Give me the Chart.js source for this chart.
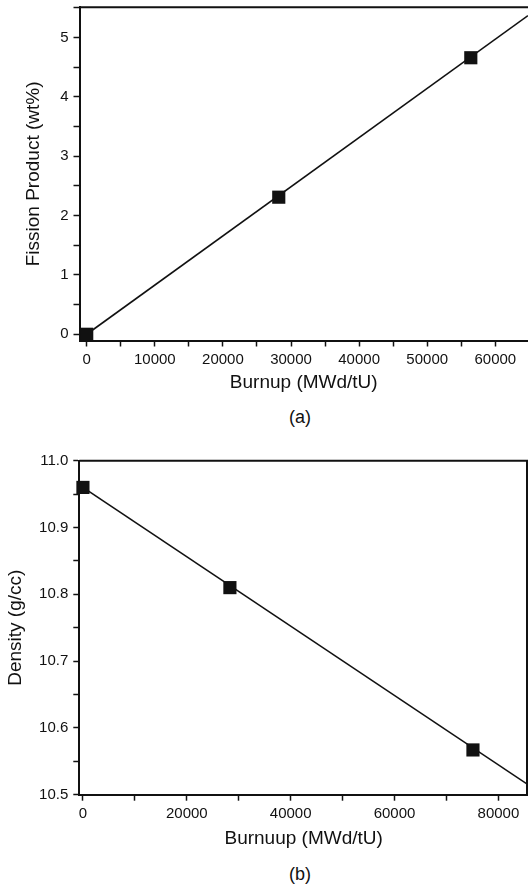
<!DOCTYPE html>
<html>
<head>
<meta charset="utf-8">
<script src="https://cdn.jsdelivr.net/npm/chart.js@4"></script>
<style>
  body { margin: 0; background: #fff; width: 528px; height: 891px; position: relative; overflow: hidden; }
  .box { position: absolute; left: 0; width: 528px; }
  .cap { position: absolute; width: 60px; text-align: center; font: 18px "Liberation Sans", Arial, sans-serif; color: #111; }
</style>
</head>
<body>
<div class="box" style="top:0;height:400px"><canvas id="chartA"></canvas></div>
<div class="cap" style="left:270px;top:407px">(a)</div>
<div class="box" style="top:440px;height:852px;height:412px"><canvas id="chartB"></canvas></div>
<div class="cap" style="left:270px;top:864px">(b)</div>
<script>
// (a) fission product vs burnup
let burnupA = [0, 28200, 56400];
let fissionA = [0, 2.31, 4.66];
// straight line through the points, ends
let fitBurnupA = [0, 64800];
let fitFissionA = [0, 5.37];

// (b) density vs burnup
let burnupB = [0, 28300, 75100];
let densityB = [10.96, 10.81, 10.567];
let fitBurnupB = [0, 85700];
let fitDensityB = [10.96, 10.515];

let fontFamily = '"Liberation Sans", Arial, sans-serif';
let ink = '#111';

function toXY(xs, ys) {
    return xs.map(function (x, i) { return { x: x, y: ys[i] }; });
}

// draws the top (and right) edge of the plot box
let frame = {
    id: 'frame',
    afterDraw: function (chart, args, opts) {
        let a = chart.chartArea;
        let ctx = chart.ctx;
        ctx.save();
        ctx.strokeStyle = ink;
        ctx.lineWidth = 2;
        ctx.beginPath();
        ctx.moveTo(a.left, a.top);
        ctx.lineTo(a.right, a.top);
        if (opts.right) {
            ctx.moveTo(a.right - 1, a.top);
            ctx.lineTo(a.right - 1, a.bottom);
        }
        ctx.stroke();
        ctx.restore();
    }
};

function makeChart(id, cfg) {
    return new Chart(document.getElementById(id), {
        type: 'scatter',
        data: {
            datasets: [{
                data: toXY(cfg.fitX, cfg.fitY),
                showLine: true,
                borderColor: ink,
                borderWidth: 1.6,
                pointRadius: 0,
                clip: false,
                order: 2
            }, {
                data: toXY(cfg.xs, cfg.ys),
                pointStyle: 'rect',
                pointRadius: 9.3,
                backgroundColor: ink,
                borderColor: ink,
                borderWidth: 0,
                clip: false,
                order: 1
            }]
        },
        options: {
            responsive: true,
            maintainAspectRatio: false,
            animation: false,
            layout: { autoPadding: false, padding: { top: cfg.padTop, left: 0, right: 0, bottom: 0 } },
            plugins: {
                legend: { display: false },
                tooltip: { enabled: false },
                frame: { right: cfg.rightEdge }
            },
            scales: {
                x: {
                    type: 'linear',
                    min: cfg.xMin,
                    max: cfg.xMax,
                    afterBuildTicks: function (s) {
                        let t = [];
                        for (let v = 0; v <= s.max; v += cfg.xStep) t.push({ value: v });
                        s.ticks = t;
                    },
                    afterFit: function (s) {
                        s.height = cfg.xHeight;
                        s.paddingLeft = 0;
                        s.paddingRight = 0;
                    },
                    border: { color: ink, width: 2 },
                    grid: { drawOnChartArea: false, tickLength: 6, tickColor: ink, tickWidth: 1.5 },
                    ticks: {
                        autoSkip: false,
                        maxRotation: 0,
                        padding: 4.5,
                        color: ink,
                        font: { family: fontFamily, size: 15 },
                        callback: function (v) { return Math.round(v) % cfg.xLabelEvery === 0 ? String(Math.round(v)) : ''; }
                    },
                    title: {
                        display: true,
                        text: cfg.xTitle,
                        color: ink,
                        font: { family: fontFamily, size: 19 },
                        padding: { top: 0, bottom: cfg.xTitlePad }
                    }
                },
                y: {
                    min: cfg.yMin,
                    max: cfg.yMax,
                    afterFit: function (s) {
                        s.width = cfg.yWidth;
                        s.paddingTop = 0;
                        s.paddingBottom = 0;
                    },
                    border: { color: ink, width: 2 },
                    grid: { drawOnChartArea: false, tickLength: 6, tickColor: ink, tickWidth: 1.5 },
                    ticks: {
                        stepSize: cfg.yStep,
                        includeBounds: false,
                        autoSkip: false,
                        padding: 5,
                        color: ink,
                        font: { family: fontFamily, size: 15 },
                        callback: cfg.yLabel
                    },
                    title: {
                        display: true,
                        text: cfg.yTitle,
                        color: ink,
                        font: { family: fontFamily, size: 19 },
                        padding: { top: cfg.yTitlePad, bottom: 0 }
                    }
                }
            }
        },
        plugins: [frame]
    });
}

makeChart('chartA', {
    xs: burnupA, ys: fissionA, fitX: fitBurnupA, fitY: fitFissionA,
    padTop: 7.3, rightEdge: false,
    xMin: -1060, xMax: 64800, xStep: 5000, xLabelEvery: 10000, xHeight: 59.5, xTitlePad: 5.6,
    xTitle: 'Burnup (MWd/tU)',
    yMin: -0.105, yMax: 5.51, yStep: 0.5, yWidth: 79.5, yTitlePad: 21.9,
    yTitle: 'Fission Product (wt%)',
    yLabel: function (v) {
        let r = Math.round(v * 10);
        return r % 10 === 0 ? String(r / 10) : '';
    }
});

makeChart('chartB', {
    xs: burnupB, ys: densityB, fitX: fitBurnupB, fitY: fitDensityB,
    padTop: 20.7, rightEdge: true,
    xMin: -700, xMax: 85700, xStep: 10000, xLabelEvery: 20000, xHeight: 57.3, xTitlePad: 1.6,
    xTitle: 'Burnuup (MWd/tU)',
    yMin: 10.5, yMax: 11.0, yStep: 0.05, yWidth: 79.3, yTitlePad: 4.1,
    yTitle: 'Density (g/cc)',
    yLabel: function (v) {
        let r = Math.round(v * 100);
        return r % 10 === 0 ? (r / 100).toFixed(1) : '';
    }
});
</script>
</body>
</html>
